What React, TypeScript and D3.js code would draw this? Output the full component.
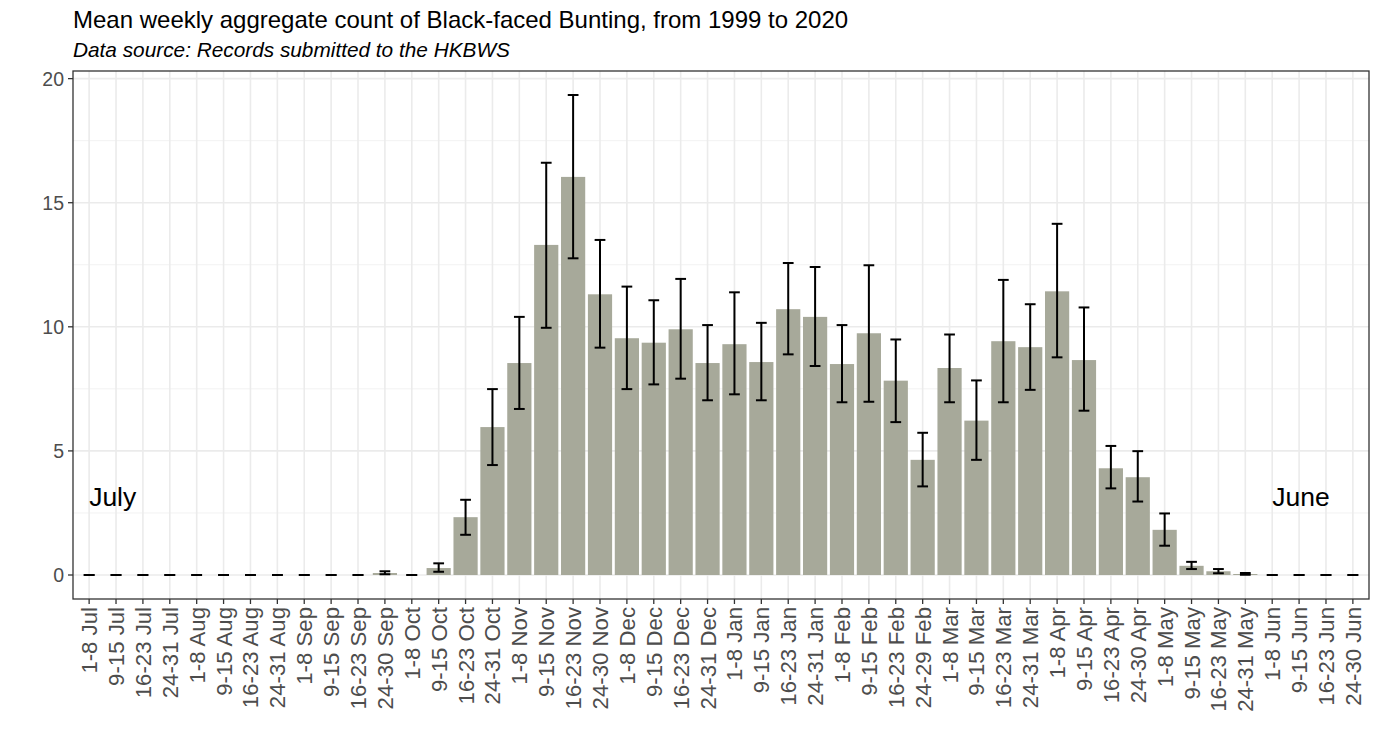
import * as d3 from 'd3';

const weeks = [
  '1-8 Jul', '9-15 Jul', '16-23 Jul', '24-31 Jul',
  '1-8 Aug', '9-15 Aug', '16-23 Aug', '24-31 Aug',
  '1-8 Sep', '9-15 Sep', '16-23 Sep', '24-30 Sep',
  '1-8 Oct', '9-15 Oct', '16-23 Oct', '24-31 Oct',
  '1-8 Nov', '9-15 Nov', '16-23 Nov', '24-30 Nov',
  '1-8 Dec', '9-15 Dec', '16-23 Dec', '24-31 Dec',
  '1-8 Jan', '9-15 Jan', '16-23 Jan', '24-31 Jan',
  '1-8 Feb', '9-15 Feb', '16-23 Feb', '24-29 Feb',
  '1-8 Mar', '9-15 Mar', '16-23 Mar', '24-31 Mar',
  '1-8 Apr', '9-15 Apr', '16-23 Apr', '24-30 Apr',
  '1-8 May', '9-15 May', '16-23 May', '24-31 May',
  '1-8 Jun', '9-15 Jun', '16-23 Jun', '24-30 Jun',
];

// mean weekly count
const meanCount = [
  0, 0, 0, 0, 0, 0, 0, 0, 0, 0, 0, 0.08,
  0, 0.28, 2.33, 5.96, 8.54, 13.3, 16.04, 11.31, 9.54, 9.36, 9.9, 8.54,
  9.3, 8.58, 10.71, 10.4, 8.5, 9.74, 7.83, 4.64, 8.34, 6.22, 9.42, 9.18,
  11.43, 8.66, 4.3, 3.94, 1.82, 0.37, 0.15, 0.04, 0, 0, 0, 0,
];

// error bar ends
const lowerCount = [
  0, 0, 0, 0, 0, 0, 0, 0, 0, 0, 0, 0.03,
  0, 0.13, 1.62, 4.43, 6.69, 9.96, 12.76, 9.16, 7.49, 7.68, 7.91, 7.04,
  7.28, 7.04, 8.89, 8.42, 6.96, 6.98, 6.16, 3.57, 6.96, 4.64, 6.96, 7.46,
  8.77, 6.62, 3.49, 2.96, 1.18, 0.24, 0.07, 0.01, 0, 0, 0, 0,
];
const upperCount = [
  0, 0, 0, 0, 0, 0, 0, 0, 0, 0, 0, 0.15,
  0, 0.47, 3.03, 7.49, 10.4, 16.61, 19.34, 13.5, 11.62, 11.07, 11.93, 10.07,
  11.39, 10.16, 12.57, 12.41, 10.07, 12.48, 9.49, 5.73, 9.69, 7.84, 11.89, 10.91,
  14.15, 10.78, 5.2, 4.99, 2.48, 0.53, 0.24, 0.08, 0, 0, 0, 0,
];

const yTicks = [0, 5, 10, 15, 20];
const yMinor = [2.5, 7.5, 12.5, 17.5];

const W = 1379;
const H = 752;
const left = 73;
const right = 1369;
const top = 71;
const bottom = 599;
const font = '"Liberation Sans", Arial, sans-serif';

export default function App() {
  const x = d3.scalePoint<string>().domain(weeks).range([left, right]).padding(0.6);
  const step = x.step();
  const maxVal = d3.max(upperCount) as number;
  const pad = maxVal * 0.05;
  const y = d3.scaleLinear().domain([-pad, maxVal + pad]).range([bottom, top]);

  const barW = step * 0.9;
  const capW = step * 0.4;

  return (
    <svg width={W} height={H} style={{ position: 'fixed', left: 0, top: 0, background: '#fff' }}>
      <rect x={0} y={0} width={W} height={H} fill="#fff" />
      <text x={73} y={28} fontFamily={font} fontSize={24} fill="#000">
        Mean weekly aggregate count of Black-faced Bunting, from 1999 to 2020
      </text>
      <text x={73} y={57} fontFamily={font} fontSize={20.8} fontStyle="italic" fill="#000">
        Data source: Records submitted to the HKBWS
      </text>

      {/* grid */}
      {yMinor.map(v => (
        <line key={'mn' + v} x1={left} x2={right} y1={y(v)} y2={y(v)} stroke="#f2f2f2" strokeWidth={1} />
      ))}
      {yTicks.map(v => (
        <line key={'mj' + v} x1={left} x2={right} y1={y(v)} y2={y(v)} stroke="#ebebeb" strokeWidth={1.6} />
      ))}
      {weeks.map(w => (
        <line key={'vg' + w} x1={x(w)} x2={x(w)} y1={top} y2={bottom} stroke="#ebebeb" strokeWidth={1.6} />
      ))}

      {/* bars */}
      {weeks.map((w, i) => (
        meanCount[i] > 0 ? (
          <rect key={'b' + w} x={(x(w) as number) - barW / 2} y={y(meanCount[i])}
            width={barW} height={y(0) - y(meanCount[i])} fill="#a7a99a" />
        ) : null
      ))}

      {/* error bars */}
      {weeks.map((w, i) => {
        const cx = x(w) as number;
        return (
          <g key={'e' + w} stroke="#000" strokeWidth={2}>
            <line x1={cx} x2={cx} y1={y(lowerCount[i])} y2={y(upperCount[i])} />
            <line x1={cx - capW / 2} x2={cx + capW / 2} y1={y(lowerCount[i])} y2={y(lowerCount[i])} />
            <line x1={cx - capW / 2} x2={cx + capW / 2} y1={y(upperCount[i])} y2={y(upperCount[i])} />
          </g>
        );
      })}

      {/* month annotations */}
      <text x={x('1-8 Jul')} y={y(2.8)} fontFamily={font} fontSize={26.5} fill="#000">July</text>
      <text x={x('1-8 Jun')} y={y(2.8)} fontFamily={font} fontSize={26.5} fill="#000">June</text>

      {/* panel border */}
      <rect x={left} y={top} width={right - left} height={bottom - top} fill="none" stroke="#333" strokeWidth={1.3} />

      {/* y axis */}
      {yTicks.map(v => (
        <g key={'yt' + v}>
          <line x1={left - 5} x2={left} y1={y(v)} y2={y(v)} stroke="#333" strokeWidth={1.3} />
          <text x={left - 9} y={y(v)} dy="0.36em" textAnchor="end" fontFamily={font} fontSize={19.5} fill="#4d4d4d">{v}</text>
        </g>
      ))}

      {/* x axis */}
      {weeks.map(w => {
        const cx = x(w) as number;
        return (
          <g key={'xt' + w}>
            <line x1={cx} x2={cx} y1={bottom} y2={bottom + 5} stroke="#333" strokeWidth={1.3} />
            <text transform={`translate(${cx},${bottom + 8}) rotate(-90)`} dy="0.36em" textAnchor="end"
              fontFamily={font} fontSize={22.2} fill="#4d4d4d">{w}</text>
          </g>
        );
      })}
    </svg>
  );
}
